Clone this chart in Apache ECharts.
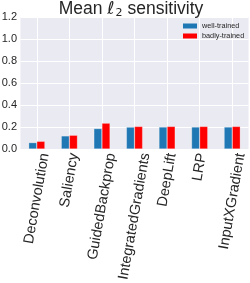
<!DOCTYPE html>
<html><head><meta charset="utf-8">
<script src="https://cdn.jsdelivr.net/npm/echarts@6/dist/echarts.min.js"></script>
<style>html,body{margin:0;padding:0;background:#fff}#c{width:250px;height:283px}</style>
</head><body><div id="c"></div>
<script>
const categories = ['Deconvolution','Saliency','GuidedBackprop','IntegratedGradients','DeepLift','LRP','InputXGradient'];
const seriesNames = ['well-trained','badly-trained'];
const wellTrained = [0.058, 0.119, 0.186, 0.199, 0.200, 0.200, 0.200];
const badlyTrained = [0.070, 0.125, 0.235, 0.205, 0.205, 0.205, 0.205];
const yTicks = [0, 0.2, 0.4, 0.6, 0.8, 1.0, 1.2];
const titleParts = ['Mean ', 'ℓ', '2', ' sensitivity'];

const FONT = '"Liberation Sans", Arial, sans-serif';
const XFS = 14.5;
const ROT = 80;
const ctx = document.createElement('canvas').getContext('2d');
ctx.font = XFS + 'px "Liberation Sans"';
const rad = ROT * Math.PI / 180, s = Math.sin(rad), c = Math.cos(rad);
const rich = {};
categories.forEach((name, i) => {
  const L = ctx.measureText(name).width;
  const H = XFS;
  const D = 3 + (L * s + H * c) / 2;
  rich['t' + i] = {fontSize: XFS, fontFamily: FONT, color: '#262626', padding: [2 * D * c, 2 * D * s, 0, 0]};
});

const chart = echarts.init(document.getElementById('c'), null, {renderer: 'canvas'});
chart.setOption({
  animation: false,
  backgroundColor: '#ffffff',
  title: {text: '{a|' + titleParts[0] + '}{l|' + titleParts[1] + '}{s|' + titleParts[2] + '}{a|' + titleParts[3] + '}',
    left: 131, textAlign: 'center', top: 0, padding: 0,
    textStyle: {fontSize: 17.5, fontWeight: 'normal', color: '#262626', fontFamily: FONT,
      rich: {
        a: {fontSize: 17.5, lineHeight: 18, color: '#262626', fontFamily: FONT},
        l: {fontSize: 17.5, lineHeight: 18, color: '#262626', fontFamily: '"DejaVu Sans", sans-serif', fontStyle: 'italic'},
        s: {fontSize: 11, lineHeight: 18, color: '#262626', fontFamily: '"DejaVu Sans", sans-serif', padding: [9, 0, 0, 1]}
      }}},
  legend: {orient: 'vertical', left: 183, top: 22, padding: 0, itemWidth: 14, itemHeight: 5, itemGap: 2,
    icon: 'rect', data: seriesNames,
    itemStyle: {borderWidth: 0},
    textStyle: {fontSize: 7.3, lineHeight: 8, color: '#262626', fontFamily: FONT}},
  grid: {left: 20.5, right: 1.5, top: 17, bottom: 134, show: true, backgroundColor: '#EAEAF2', borderWidth: 0,
    containLabel: false, outerBoundsMode: 'none'},
  xAxis: {type: 'category', data: categories,
    axisLine: {show: false}, axisTick: {show: false, alignWithLabel: true},
    splitLine: {show: true, alignWithLabel: true, lineStyle: {color: '#ffffff', width: 1}},
    axisLabel: {interval: 0, rotate: ROT, margin: 0, align: 'center', verticalAlign: 'middle', hideOverlap: false,
      formatter: (v, i) => '{t' + i + '|' + v + '}', rich: rich}},
  yAxis: {type: 'value', min: yTicks[0], max: yTicks[yTicks.length - 1], interval: 0.2,
    axisLine: {show: false}, axisTick: {show: false},
    splitLine: {show: true, lineStyle: {color: '#ffffff', width: 1}},
    axisLabel: {fontSize: 11, color: '#262626', margin: 3.5, fontFamily: FONT, formatter: v => v.toFixed(1)}},
  series: [
    {type: 'bar', name: seriesNames[0], data: wellTrained, barWidth: 8.1, barGap: '0%',
      itemStyle: {color: '#1f77b4', borderColor: 'rgba(255,255,255,0.5)', borderWidth: 0.5}},
    {type: 'bar', name: seriesNames[1], data: badlyTrained, barWidth: 8.1, barGap: '0%',
      itemStyle: {color: '#ff0000', borderColor: 'rgba(255,255,255,0.5)', borderWidth: 0.5}}
  ]
});
</script></body></html>
